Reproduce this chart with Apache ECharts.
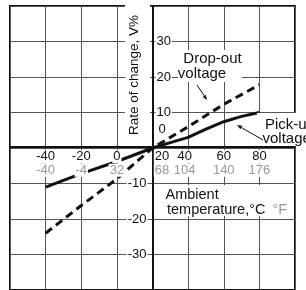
<!DOCTYPE html>
<html><head><meta charset="utf-8">
<script src="https://cdn.jsdelivr.net/npm/echarts@6/dist/echarts.min.js"></script>
<style>html,body{margin:0;padding:0;background:#fff}#c{width:306px;height:290px}</style>
</head><body><div id="c"></div>
<script>
const tempC = [-40, -20, 0, 20, 40, 60, 80];
const tempF = ['-40', '-4', '32', '68', '104', '140', '176'];
const rateTicks = [30, 20, 10, 0, -10, -20, -30];
const pickUpTemps = [-40, -20, 0, 20, 30, 40, 50, 60, 70, 80];
const pickUpRates = [-11, -7.2, -3.8, 0, 1.5, 3, 5.3, 7.4, 8.9, 10];
const dropOutTemps = [-40, -20, 0, 20, 40, 60, 80];
const dropOutRates = [-24, -16.2, -8.7, 0, 6, 12.3, 17.8];

const FONT = '"Liberation Sans", Arial, sans-serif';
const INK = '#111';
const GRAY = '#999';

const chart = echarts.init(document.getElementById('c'), null, {renderer: 'canvas'});

function xLabel(v) {
  const i = tempC.indexOf(v);
  if (i < 0) return '';
  const c = String(tempC[i]), f = tempF[i];
  if (v === 20) return `{sp| }{c|${c}}\n{sp| }{f|${f}}`;
  if (v === 40) return `{c|${c}}{sq| }\n{f|${f}}{sq| }`;
  return `{c|${c}}\n{f|${f}}`;
}
function yPosLabel(v) {
  if (rateTicks.indexOf(v) < 0) return '';
  if (v === 0) return '{z|0}';
  return v > 0 ? `{p|${v}}` : '';
}
function yNegLabel(v) {
  if (rateTicks.indexOf(v) < 0) return '';
  return v < 0 ? `{p|${v}}` : '';
}
const tk = {fontFamily: FONT, fontSize: 13, lineHeight: 13.5};
const xRich = {
  c: Object.assign({color: INK, backgroundColor: '#fff', padding: [0, 1]}, tk),
  f: Object.assign({color: GRAY, backgroundColor: '#fff', padding: [0, 1]}, tk),
  sp: Object.assign({width: 19}, tk),
  sq: Object.assign({width: 7}, tk)
};
const yRich = {
  p: Object.assign({color: INK, backgroundColor: '#fff', padding: [0, 1]}, tk),
  z: Object.assign({color: INK, padding: [0, 0, 37, 3]}, tk)
};

function arrow(x1, y1, x2, y2) {
  const dx = x2 - x1, dy = y2 - y1, L = Math.hypot(dx, dy);
  const ux = dx / L, uy = dy / L, nx = -uy, ny = ux;
  const bx = x2 - 5 * ux, by = y2 - 5 * uy;
  return [
    {type: 'line', shape: {x1, y1, x2: bx, y2: by}, style: {stroke: INK, lineWidth: 1}, z: 100},
    {type: 'polygon', shape: {points: [[x2, y2], [bx + 2 * nx, by + 2 * ny], [bx - 2 * nx, by - 2 * ny]]}, style: {fill: INK}, z: 100}
  ];
}
function txt(text, x, y, size, color, align) {
  return {type: 'text', x: x, y: y, z: 99, style: {text: text, x: 0, y: 0, fill: color || INK,
    font: size + 'px ' + FONT, textAlign: align || 'left', textVerticalAlign: 'middle'}};
}
function box(x, y, w, h) {
  return {type: 'rect', shape: {x, y, width: w, height: h}, style: {fill: '#fff'}, z: 98};
}

const AX = {min: -60, max: 100, interval: 20};
const AY = {min: -40, max: 40, interval: 10};

chart.setOption({
  animation: false,
  backgroundColor: '#fff',
  grid: {left: 10, top: 6, width: 285, height: 286, show: true, borderColor: INK, borderWidth: 2, containLabel: false},
  xAxis: [
    Object.assign({type: 'value', position: 'bottom', offset: -143, z: 0,
      axisLine: {show: true, onZero: false, lineStyle: {color: INK, width: 2}},
      axisTick: {show: false}, axisLabel: {show: false},
      splitLine: {show: true, lineStyle: {color: '#555', width: 1}}}, AX),
    Object.assign({type: 'value', position: 'bottom', offset: -143, z: 5,
      axisLine: {show: false, onZero: false}, axisTick: {show: false}, splitLine: {show: false},
      axisLabel: {show: true, margin: 3, formatter: xLabel, rich: xRich, showMinLabel: true, showMaxLabel: true}}, AX)
  ],
  yAxis: [
    Object.assign({type: 'value', position: 'left', offset: -142.5, z: 0,
      axisLine: {show: true, onZero: false, lineStyle: {color: INK, width: 2}},
      axisTick: {show: false}, axisLabel: {show: false},
      splitLine: {show: true, lineStyle: {color: '#555', width: 1}}}, AY),
    Object.assign({type: 'value', position: 'left', offset: -142.5, z: 5,
      axisLine: {show: false, onZero: false}, axisTick: {show: false}, splitLine: {show: false},
      axisLabel: {show: true, inside: true, margin: 3, formatter: yPosLabel, rich: yRich}}, AY),
    Object.assign({type: 'value', position: 'left', offset: -142.5, z: 5,
      axisLine: {show: false, onZero: false}, axisTick: {show: false}, splitLine: {show: false},
      axisLabel: {show: true, inside: false, margin: 5, formatter: yNegLabel, rich: yRich}}, AY)
  ],
  series: [
    {name: 'Pick-up voltage', type: 'line', xAxisIndex: 0, yAxisIndex: 0, symbol: 'none', smooth: false, z: 2,
      lineStyle: {color: INK, width: 3}, data: pickUpTemps.map((t, i) => [t, pickUpRates[i]])},
    {name: 'Drop-out voltage', type: 'line', xAxisIndex: 0, yAxisIndex: 0, symbol: 'none', z: 2,
      lineStyle: {color: INK, width: 3, type: [8, 5], cap: 'butt'}, data: dropOutTemps.map((t, i) => [t, dropOutRates[i]])}
  ],
  graphic: {elements: [
    box(125, 2, 25, 143),
    {type: 'text', x: 134.5, y: 75, rotation: Math.PI / 2, z: 99,
      style: {text: 'Rate of change, V%', x: 0, y: 0, fill: INK, font: '13.5px ' + FONT, textAlign: 'center', textVerticalAlign: 'middle'}},
    box(178, 50, 64, 32),
    txt('Drop-out', 212.5, 58.5, 15, INK, 'center'),
    txt('voltage', 202, 74, 15, INK, 'center'),
    box(257, 113, 50, 33),
    txt('Pick-up', 265, 124.5, 15),
    txt('voltage', 262.5, 139, 15),
    box(161, 185, 131, 31),
    txt('Ambient', 165.5, 194.5, 14.5),
    txt('temperature,°C', 167, 209.5, 14.5),
    txt('°F', 272.5, 209.5, 14.5, GRAY)
  ].concat(arrow(197, 85, 207, 100)).concat(arrow(263, 140, 237, 125))}
});
</script>
</body></html>
